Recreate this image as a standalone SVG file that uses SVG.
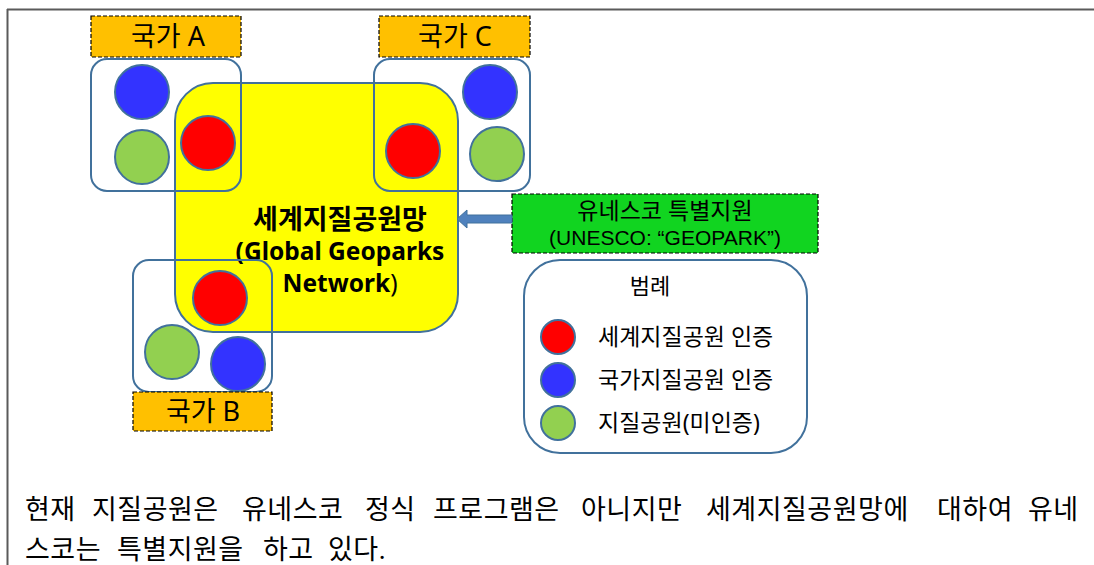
<svg xmlns="http://www.w3.org/2000/svg" width="1094" height="565" viewBox="0 0 1094 565">
<style>
.sans{font-family:"Noto Sans","Noto Sans CJK KR",sans-serif;fill:#000}
.lat{font-family:"Liberation Sans","Noto Sans CJK KR",sans-serif;fill:#000}
.serif{font-family:"Liberation Serif","Noto Sans CJK KR",serif;fill:#000;font-size:27px;letter-spacing:0.5px}
.lbl{fill:#FFC000;stroke:#000;stroke-width:1.2;stroke-dasharray:4 2}
.cbox{fill:none;stroke:#41719C;stroke-width:2}
.c{stroke:#41719C;stroke-width:2}
.r{fill:#FF0000}.b{fill:#3333FF}.g{fill:#92D050}
</style>
<rect width="1094" height="565" fill="#fff"/>
<g id="frame" stroke="#5a5a5a" stroke-width="2" fill="none">
<line x1="7" y1="9.5" x2="1094" y2="9.5"/>
<line x1="7.5" y1="9" x2="7.5" y2="565"/>
</g>
<g id="gmn">
<rect x="175" y="83" width="283" height="249" rx="38" fill="#FFFF00" stroke="#41719C" stroke-width="2"/>
<text class="sans" x="340" y="229" text-anchor="middle" font-size="27" font-weight="bold">세계지질공원망</text>
<text class="sans" x="340" y="260" text-anchor="middle" font-size="24.5" font-weight="bold">(Global Geoparks</text>
<text class="sans" x="340" y="292" text-anchor="middle" font-size="24.5" font-weight="bold">Network<tspan font-weight="normal">)</tspan></text>
</g>
<g id="countryA">
<rect class="lbl" x="91" y="16" width="150" height="41"/>
<text class="sans" x="168" y="46" text-anchor="middle" font-size="27">국가 A</text>
<rect class="cbox" x="91" y="59" width="150" height="132" rx="16"/>
<circle class="c b" cx="142" cy="92" r="27"/>
<circle class="c g" cx="142" cy="157" r="27"/>
<circle class="c r" cx="208" cy="143" r="27"/>
</g>
<g id="countryC">
<rect class="lbl" x="379" y="16" width="151" height="41"/>
<text class="sans" x="455" y="46" text-anchor="middle" font-size="27">국가 C</text>
<rect class="cbox" x="374" y="59" width="156" height="132" rx="16"/>
<circle class="c b" cx="490" cy="92" r="27"/>
<circle class="c g" cx="497" cy="154" r="27"/>
<circle class="c r" cx="413" cy="151" r="27"/>
</g>
<g id="countryB">
<rect class="cbox" x="133" y="260" width="139" height="132" rx="16"/>
<circle class="c r" cx="220" cy="298" r="27"/>
<circle class="c g" cx="172" cy="352" r="27"/>
<circle class="c b" cx="238" cy="364" r="27"/>
<rect class="lbl" x="133" y="392" width="139" height="39"/>
<text class="sans" x="203" y="421" text-anchor="middle" font-size="27">국가 B</text>
</g>
<g id="unesco">
<rect x="512" y="194" width="306" height="59" fill="#11D420" stroke="#000" stroke-width="1.2" stroke-dasharray="4 2"/>
<text class="sans" x="665" y="219" text-anchor="middle" font-size="23">유네스코 특별지원</text>
<text class="lat" x="665" y="245" text-anchor="middle" font-size="21">(UNESCO: “GEOPARK”)</text>
</g>
<g id="connectors">
<polygon points="457,219 467,210 467,215 512,215 512,223 467,223 467,228" fill="#4F81BD" stroke="#41719C" stroke-width="1"/>
</g>
<g id="legend">
<rect x="524" y="260" width="283" height="193" rx="36" fill="#fff" stroke="#41719C" stroke-width="2"/>
<text class="sans" x="650" y="294" text-anchor="middle" font-size="22">범례</text>
<circle class="c r" cx="558" cy="337" r="17"/>
<circle class="c b" cx="558" cy="380" r="17"/>
<circle class="c g" cx="558" cy="423" r="17"/>
<text class="sans" x="598" y="345" font-size="23">세계지질공원 인증</text>
<text class="sans" x="598" y="388" font-size="23">국가지질공원 인증</text>
<text class="sans" x="598" y="431" font-size="23">지질공원(미인증)</text>
</g>
<g id="caption">
<text class="serif" y="519"><tspan x="25">현재</tspan><tspan x="92">지질공원은</tspan><tspan x="242">유네스코</tspan><tspan x="365">정식</tspan><tspan x="433">프로그램은</tspan><tspan x="581">아니지만</tspan><tspan x="706">세계지질공원망에</tspan><tspan x="937">대하여</tspan><tspan x="1028">유네</tspan></text>
<text class="serif" y="559"><tspan x="25">스코는</tspan><tspan x="117">특별지원을</tspan><tspan x="263">하고</tspan><tspan x="328">있다.</tspan></text>
</g>
</svg>
